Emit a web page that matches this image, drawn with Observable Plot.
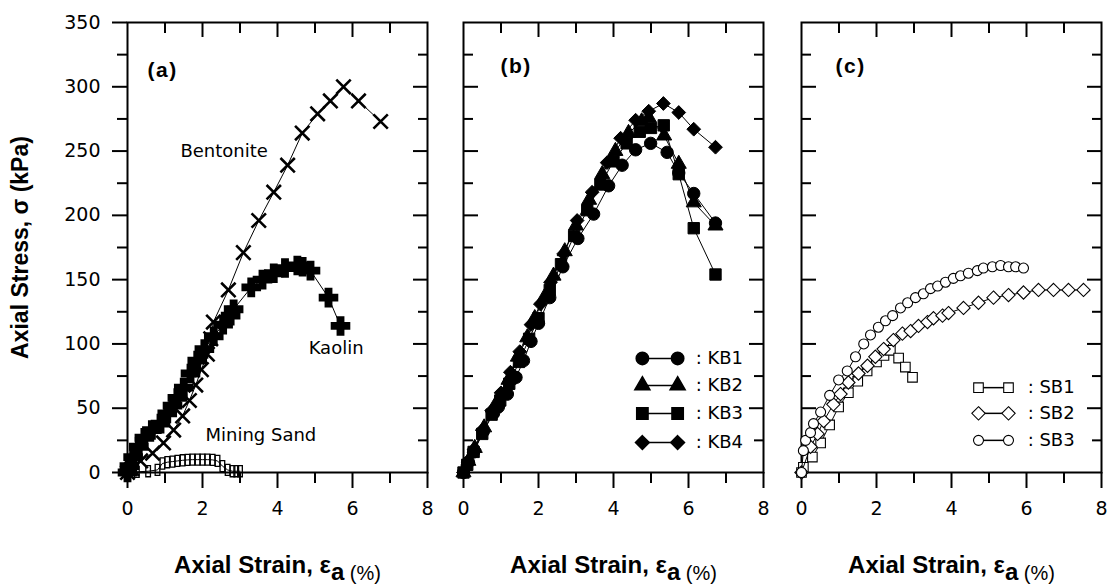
<!DOCTYPE html>
<html><head><meta charset="utf-8">
<script src="https://cdn.jsdelivr.net/npm/d3@7"></script>
<script src="https://cdn.jsdelivr.net/npm/@observablehq/plot@0.6"></script>
<style>
body{margin:0;background:#fff;}
#wrap{position:relative;width:1112px;height:588px;overflow:hidden;background:#fff;}
#wrap svg{position:absolute;top:0;overflow:visible;}
</style></head><body><div id="wrap"></div>
<script>
// ---------- DATA ----------
// Panel (a)
const bentoniteStrain = [0,0.12,0.35,0.67,0.96,1.23,1.47,1.65,1.82,1.97,2.13,2.22,2.29,2.69,3.09,3.5,3.9,4.27,4.66,5.07,5.41,5.76,6.16,6.75];
const bentoniteStress = [0,3,9,15,23,33,44,56,68,80,92,104,117,142,171,196,218,239,264,279,289,300,289,273];
const kaolinStrain = [0,0.05,0.15,0.3,0.45,0.65,0.88,1.06,1.2,1.33,1.5,1.68,1.86,2.05,2.3,2.55,2.75,2.83,3.3,3.6,3.9,4.2,4.53,4.67,4.88,5.36,5.68];
const kaolinStress = [0,5,12,20,27,33,38,46,52,58,66,77,87,96,106,115,122,127,144,150,155,159,161,160,157,136,114];
const sandStrain = [0,0.25,0.55,0.8,0.93,1.06,1.2,1.33,1.47,1.6,1.73,1.87,2.0,2.13,2.27,2.4,2.53,2.67,2.8,2.9,3.0];
const sandStress = [0,0.5,1,2,7,8,8.5,9,9.5,9.8,10,10,10,10,9.8,9,5,2,1,1,1];
const panelALabels = ["Bentonite","Kaolin","Mining Sand"];
const panelALabelStrain = [1.41,4.83,2.08];
const panelALabelStress = [250,97,29];

// Panel (b)
const kbNames = ["KB1","KB2","KB3","KB4"];
const kb1Strain = [0,0.13,0.27,0.53,0.8,0.93,1.17,1.4,1.6,1.8,2.0,2.3,2.65,3.05,3.47,3.87,4.23,4.59,4.99,5.43,5.74,6.14,6.72];
const kb1Stress = [0,8,16,32,46,51,61,74,87,102,116,136,160,182,201,223,239,251,256,249,233,217,194];
const kb2Strain = [0,0.13,0.3,0.55,0.8,1.0,1.2,1.45,1.7,1.9,2.15,2.4,2.7,3.0,3.35,3.7,4.05,4.4,4.75,4.94,5.35,5.74,6.14,6.72];
const kb2Stress = [0,9,19,35,50,60,72,90,105,120,136,153,172,192,212,232,250,264,273,276,262,240,210,192];
const kb3Strain = [0,0.1,0.27,0.5,0.75,0.98,1.22,1.48,1.75,2.0,2.3,2.6,2.95,3.3,3.65,4.0,4.35,4.7,5.0,5.34,5.74,6.14,6.72];
const kb3Stress = [0,6,16,30,45,56,69,86,104,120,142,162,184,204,224,242,256,265,268,270,232,190,154];
const kb4Strain = [0,0.12,0.28,0.5,0.75,1.0,1.25,1.5,1.8,2.05,2.32,2.67,3.03,3.43,3.83,4.19,4.59,4.94,5.33,5.74,6.14,6.72];
const kb4Stress = [0,8,18,33,48,62,78,94,115,131,148,170,196,218,241,260,274,281,287,280,267,253];

// Panel (c)
const sbNames = ["SB1","SB2","SB3"];
const sb1Strain = [0,0.05,0.29,0.51,0.75,0.99,1.25,1.5,1.75,2.0,2.2,2.37,2.59,2.77,2.96];
const sb1Stress = [0,4,12,23,37,51,62,71,79,86,91,95,89,82,74];
const sb2Strain = [0,0.24,0.43,0.59,0.85,1.04,1.25,1.52,1.76,1.97,2.19,2.45,2.69,2.91,3.12,3.36,3.52,3.76,3.92,4.32,4.72,5.12,5.52,5.92,6.32,6.72,7.12,7.52];
const sb2Stress = [0,20,30,40,53,61,70,77,83,90,96,103,108,110,114,117,120,122,124,128,132,136,138,140,142,142,142,142];
const sb3Strain = [0,0.05,0.11,0.24,0.32,0.51,0.75,0.99,1.22,1.44,1.66,1.84,2.05,2.24,2.43,2.64,2.83,3.04,3.25,3.44,3.63,3.84,4.05,4.24,4.45,4.69,4.85,5.09,5.31,5.52,5.71,5.92];
const sb3Stress = [0,17,25,31,38,47,60,72,79,90,100,107,113,118,122,128,132,136,139,143,145,148,151,153,155,157,159,160,161,160,160,159];

// Axes
const xTicksMajor = [0,2,4,6,8];
const xTicksMinor = [1,3,5,7];
const yTicksMajor = [0,50,100,150,200,250,300,350];
const yTicksMinor = [25,75,125,175,225,275,325];
const XTITLE = "Axial Strain, εa (%)";
const YTITLE = "Axial Stress, σ (kPa)";

// ---------- helpers ----------
const zip = (xs, ys, name) => xs.map((x, i) => ({strain: x, stress: ys[i], name}));
const PW = 300, PH = 450, TOP = 22, BOTTOM = 116;
const SANS = "Liberation Sans, Arial, sans-serif";

const narrowRect = {draw(ctx, size) {const h = Math.sqrt(size) * 1.25, w = h * 0.42; ctx.rect(-w / 2, -h / 2, w, h);}};

function axes(leftLabels) {
  const m = [
    Plot.frame({strokeWidth: 2}),
    Plot.axisX({ticks: xTicksMajor, tickSize: 16, tickPadding: 13, strokeWidth: 2, label: null, tickFormat: d => String(d)}),
    Plot.axisX({ticks: xTicksMinor, tickSize: 11, strokeWidth: 2, label: null, tickFormat: () => ""}),
    Plot.axisX({anchor: "top", ticks: [2,4,6], tickSize: -14, strokeWidth: 2, label: null, tickFormat: () => ""}),
    Plot.axisX({anchor: "top", ticks: xTicksMinor, tickSize: -10, strokeWidth: 2, label: null, tickFormat: () => ""}),
    Plot.axisY({anchor: "right", ticks: yTicksMajor.slice(1, -1), tickSize: -15, strokeWidth: 2, label: null, tickFormat: () => ""}),
    Plot.axisY({anchor: "right", ticks: yTicksMinor, tickSize: -10, strokeWidth: 2, label: null, tickFormat: () => ""})
  ];
  if (leftLabels) {
    m.push(Plot.axisY({ticks: yTicksMajor, tickSize: 15, tickPadding: 12, strokeWidth: 2, label: null, tickFormat: d => String(d)}));
    m.push(Plot.axisY({ticks: yTicksMinor, tickSize: 10, strokeWidth: 2, label: null, tickFormat: () => ""}));
  } else {
    m.push(Plot.axisY({ticks: yTicksMajor.slice(1, -1), tickSize: -15, strokeWidth: 2, label: null, tickFormat: () => ""}));
    m.push(Plot.axisY({ticks: yTicksMinor, tickSize: -10, strokeWidth: 2, label: null, tickFormat: () => ""}));
  }
  m.push(Plot.text([XTITLE], {frameAnchor: "bottom", dy: 93, text: d => d, fontSize: 24, fontFamily: SANS, textAnchor: "middle", lineAnchor: "middle"}));
  return m;
}

function panel({marginLeft, marginRight, left, marks, leftLabels, tag, tagDx, tagDy}) {
  const svg = Plot.plot({
    width: marginLeft + PW + marginRight, height: TOP + PH + BOTTOM,
    marginLeft, marginRight, marginTop: TOP, marginBottom: BOTTOM,
    x: {domain: [0, 8]}, y: {domain: [0, 350]},
    style: {fontFamily: "DejaVu Sans, sans-serif", fontSize: "19px", color: "#000", background: "transparent", overflow: "visible"},
    marks: [
      ...axes(leftLabels),
      Plot.text([tag], {frameAnchor: "top-left", dx: tagDx, dy: tagDy, text: d => d, fontWeight: "bold", fontSize: 21, fontFamily: SANS, textAnchor: "start", lineAnchor: "middle"}),
      ...marks
    ]
  });
  svg.style.left = left + "px";
  d3.select(svg).selectAll("text").filter(function() {return this.textContent === XTITLE;}).each(function() {
    const t = d3.select(this); t.text(null);
    t.append("tspan").attr("font-weight", "bold").text("Axial Strain, ε");
    t.append("tspan").attr("font-weight", "bold").attr("dy", "0.28em").text("a");
    t.append("tspan").attr("font-weight", "normal").attr("font-size", "20px").text(" (%)");
  });
  d3.select(svg).selectAll("text").filter(function() {return /^\([abc]\)$/.test(this.textContent);}).style("letter-spacing", "1.5px");
  document.getElementById("wrap").appendChild(svg);
  return svg;
}

// ---------- Panel (a) ----------
const bentonite = zip(bentoniteStrain, bentoniteStress, "Bentonite");
const kaolin = zip(kaolinStrain, kaolinStress, "Kaolin");
const sand = zip(sandStrain, sandStress, "Mining Sand");
const aLabels = panelALabels.map((t, i) => ({t, strain: panelALabelStrain[i], stress: panelALabelStress[i]}));

panel({
  marginLeft: 127, marginRight: 16, left: 0, leftLabels: true, tag: "(a)", tagDx: 20, tagDy: 48,
  marks: [
    Plot.line(bentonite, {x: "strain", y: "stress", stroke: "#000", strokeWidth: 1}),
    Plot.dot(bentonite, {x: "strain", y: "stress", symbol: "times", r: 6.6, stroke: "#000", strokeWidth: 2.6}),
    Plot.line(kaolin, {x: "strain", y: "stress", stroke: "#000", strokeWidth: 1}),
    Plot.dot(kaolin, {x: "strain", y: "stress", symbol: "cross", r: 7.4, fill: "#000", stroke: "#000", strokeWidth: 2}),
    Plot.line(sand, {x: "strain", y: "stress", stroke: "#000", strokeWidth: 1}),
    Plot.dot(sand, {x: "strain", y: "stress", symbol: narrowRect, r: 5, fill: "none", stroke: "#000", strokeWidth: 1.3}),
    Plot.text(aLabels, {x: "strain", y: "stress", text: "t", textAnchor: "start", lineAnchor: "middle", fontSize: 18, fontFamily: "DejaVu Sans, sans-serif"}),
    Plot.text([YTITLE], {frameAnchor: "left", dx: -107, rotate: -90, text: d => d, fontWeight: "bold", fontSize: 23, fontFamily: SANS, textAnchor: "middle", lineAnchor: "middle"})
  ]
});

// ---------- Panel (b) ----------
const kbSeries = [
  zip(kb1Strain, kb1Stress, "KB1"), zip(kb2Strain, kb2Stress, "KB2"),
  zip(kb3Strain, kb3Stress, "KB3"), zip(kb4Strain, kb4Stress, "KB4")
];
const kbSymbols = ["circle", "triangle", "square", "diamond2"];
const kbR = [6.2, 5.6, 6.4, 6.2];
const kbLegendStress = [88.7, 67.7, 45.9, 23.3];
const kbMarks = [];
kbSeries.forEach((s, i) => {
  kbMarks.push(Plot.line(s, {x: "strain", y: "stress", stroke: "#000", strokeWidth: 1}));
  kbMarks.push(Plot.dot(s, {x: "strain", y: "stress", symbol: kbSymbols[i], r: kbR[i], fill: "#000", stroke: "#000", strokeWidth: 1}));
});
const kbLegend = kbNames.map((n, i) => ({n, i, ly: kbLegendStress[i]}));
kbMarks.push(Plot.link(kbLegend, {x1: () => 4.77, x2: () => 5.71, y1: "ly", y2: "ly", stroke: "#000", strokeWidth: 1.5}));
kbLegend.forEach(d => {
  kbMarks.push(Plot.dot([d, d], {x: (e, j) => j ? 5.71 : 4.77, y: "ly", symbol: kbSymbols[d.i], r: kbR[d.i], fill: "#000", stroke: "#000"}));
});
kbMarks.push(Plot.text(kbLegend, {x: () => 6.19, y: "ly", text: d => ": " + d.n, textAnchor: "start", lineAnchor: "middle", fontSize: 18, fontFamily: "DejaVu Sans, sans-serif"}));

panel({marginLeft: 20, marginRight: 20, left: 443, leftLabels: false, tag: "(b)", tagDx: 37, tagDy: 44, marks: kbMarks});

// ---------- Panel (c) ----------
const sbSeries = [zip(sb1Strain, sb1Stress, "SB1"), zip(sb2Strain, sb2Stress, "SB2"), zip(sb3Strain, sb3Stress, "SB3")];
const sbSymbols = ["square", "diamond2", "circle"];
const sbR = [5.4, 6.0, 5.0];
const sbLegendStress = [66, 46, 25];
const sbMarks = [];
sbSeries.forEach((s, i) => {
  sbMarks.push(Plot.line(s, {x: "strain", y: "stress", stroke: "#000", strokeWidth: 1}));
  sbMarks.push(Plot.dot(s, {x: "strain", y: "stress", symbol: sbSymbols[i], r: sbR[i], fill: "#fff", stroke: "#000", strokeWidth: 1.1}));
});
const sbLegend = sbNames.map((n, i) => ({n, i, ly: sbLegendStress[i]}));
sbMarks.push(Plot.link(sbLegend, {x1: () => 4.72, x2: () => 5.52, y1: "ly", y2: "ly", stroke: "#000", strokeWidth: 1.5}));
sbLegend.forEach(d => {
  sbMarks.push(Plot.dot([d, d], {x: (e, j) => j ? 5.52 : 4.72, y: "ly", symbol: sbSymbols[d.i], r: sbR[d.i], fill: "#fff", stroke: "#000", strokeWidth: 1.1}));
});
sbMarks.push(Plot.text(sbLegend, {x: () => 6.03, y: "ly", text: d => ": " + d.n, textAnchor: "start", lineAnchor: "middle", fontSize: 18, fontFamily: "DejaVu Sans, sans-serif"}));

panel({marginLeft: 18, marginRight: 11, left: 783, leftLabels: false, tag: "(c)", tagDx: 34, tagDy: 44, marks: sbMarks});
</script></body></html>
